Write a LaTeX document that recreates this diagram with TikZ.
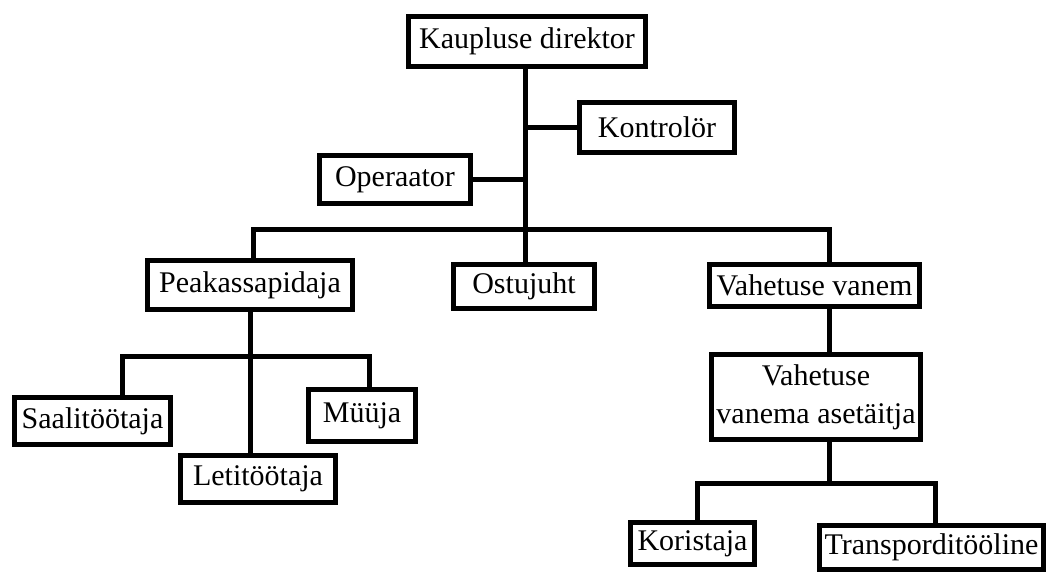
\documentclass[tikz,border=0pt]{standalone}
\usepackage{fontspec}
\setmainfont{Liberation Serif}

\begin{document}
\begin{tikzpicture}[x=1pt,y=-1pt,line width=5pt,line join=miter,
  box/.style={draw,fill=white,inner sep=0pt,align=center,
    font=\fontsize{30}{38}\selectfont}]
\useasboundingbox (0,0) rectangle (1046,572);
% juhid
\node[box,minimum width=237pt,minimum height=50pt] (dir) at (527,41.5) {Kaupluse direktor};
\node[box,minimum width=155pt,minimum height=50pt] (kontr) at (657,127.5) {Kontrolör};
\node[box,minimum width=151pt,minimum height=48pt] (oper) at (395,179.5) {Operaator};
% teine tase
\node[box,minimum width=205pt,minimum height=49pt] (peak) at (250,285) {Peakassapidaja};
\node[box,minimum width=141pt,minimum height=44pt] (ostu) at (524,286.5) {Ostujuht};
\node[box,minimum width=210pt,minimum height=42pt] (vvan) at (814.5,285.5) {Vahetuse vanem};
\node[box,minimum width=209pt,minimum height=85pt] (vase) at (816,397) {Vahetuse\\vanema asetäitja};
% töötajad
\node[box,minimum width=156pt,minimum height=47pt] (saal) at (92.5,421) {Saalitöötaja};
\node[box,minimum width=107pt,minimum height=52pt] (myy) at (362,415.5) {Müüja};
\node[box,minimum width=155pt,minimum height=47pt] (leti) at (258,479) {Letitöötaja};
\node[box,minimum width=124pt,minimum height=42pt] (kori) at (692.5,543.5) {Koristaja};
\node[box,minimum width=224pt,minimum height=44pt] (trans) at (931.5,547.5) {Transporditööline};
% ühendused
\coordinate (hub) at (525,229);
\coordinate (barL) at (253,229);
\coordinate (barR) at (829,229);
\draw (hub |- dir.south) -- (hub |- ostu.north);
\draw (hub |- kontr.west) -- (kontr.west);
\draw (hub |- oper.east) -- (oper.east);
\draw (barL |- peak.north) -- (barL) -- (barR) -- (barR |- vvan.north);
\draw (barR |- vvan.south) -- (barR |- vase.north);
% kassa alluvad
\coordinate (subL) at (122,356);
\coordinate (subR) at (369,356);
\draw (peak.south) -- (peak.south |- leti.north);
\draw (subL |- saal.north) -- (subL) -- (subR) -- (subR |- myy.north);
% vahetuse alluvad
\coordinate (subL2) at (697,483);
\coordinate (subR2) at (935,483);
\draw (barR |- vase.south) -- (barR |- subL2);
\draw (subL2 |- kori.north) -- (subL2) -- (subR2) -- (subR2 |- trans.north);
\end{tikzpicture}
\end{document}
